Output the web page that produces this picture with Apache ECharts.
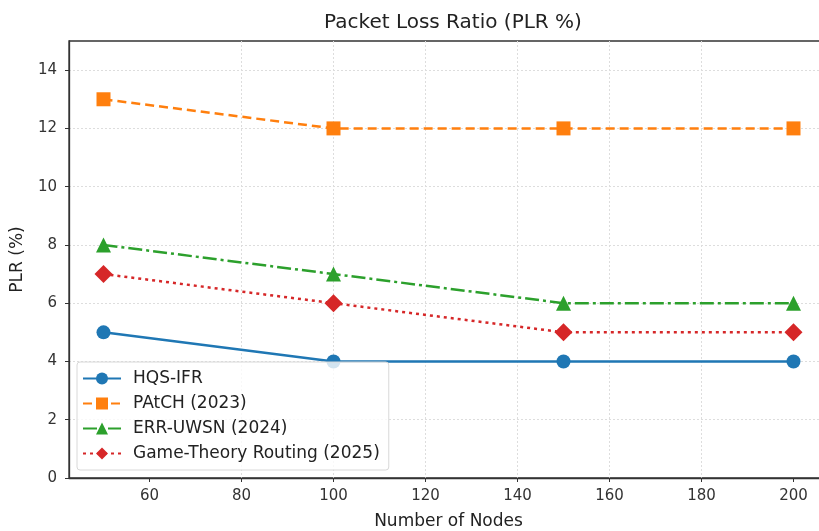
<!DOCTYPE html>
<html>
<head>
<meta charset="utf-8">
<script src="https://cdn.jsdelivr.net/npm/echarts@6/dist/echarts.min.js"></script>
<style>
  html, body { margin: 0; padding: 0; background: #fff; }
  #chart { width: 819px; height: 531px; }
</style>
</head>
<body>
<div id="chart"></div>
<script>
// data
var nodes = [50, 100, 150, 200];
var hqsIfr = [5, 4, 4, 4];
var patch2023 = [13, 12, 12, 12];
var errUwsn2024 = [8, 7, 6, 6];
var gameTheory2025 = [7, 6, 5, 5];
var xTicks = [60, 80, 100, 120, 140, 160, 180, 200];

var font = 'DejaVu Sans';

function pairs(ys) {
    return nodes.map(function (x, i) { return [x, ys[i]]; });
}

function mkSeries(name, ys, color, symbol, dash, size) {
    return {
        name: name,
        type: 'line',
        data: pairs(ys),
        symbol: symbol,
        symbolSize: size,
        itemStyle: { color: color },
        lineStyle: { color: color, width: 2.5, type: dash },
        emphasis: { disabled: true },
        z: 2
    };
}

var chart = echarts.init(document.getElementById('chart'));
var option = {
    animation: false,
    backgroundColor: '#fff',
    title: {
        text: 'Packet Loss Ratio (PLR %)',
        left: 448, top: 8, textAlign: 'center',
        textStyle: { fontFamily: font, fontSize: 20, fontWeight: 'normal', color: '#222' }
    },
    // plot box runs past the right edge of the picture, like the reference
    grid: {
        left: 69, top: 41, bottom: 53, width: 759,
        outerBoundsMode: 'none', containLabel: false,
        show: true, borderColor: '#333', borderWidth: 1.3
    },
    legend: {
        orient: 'vertical',
        left: 77, top: 362,
        padding: [8, 9, 8, 5],
        itemGap: 8,
        itemWidth: 38, itemHeight: 15,
        backgroundColor: 'rgba(255,255,255,0.8)',
        borderColor: '#d8d8d8', borderWidth: 1, borderRadius: 3,
        textStyle: { fontFamily: font, fontSize: 17, color: '#222', padding: [0, 0, 0, 7] },
        z: 10
    },
    xAxis: {
        type: 'value', min: 42.5, max: 207.5,
        name: 'Number of Nodes', nameLocation: 'middle', nameGap: 35,
        nameTextStyle: { fontFamily: font, fontSize: 17, color: '#222' },
        axisLine: { show: true, lineStyle: { color: '#333', width: 1.3 } },
        axisTick: { show: true, customValues: xTicks, length: 4, lineStyle: { color: '#333' } },
        axisLabel: { customValues: xTicks, fontFamily: font, fontSize: 15, color: '#333', margin: 11 },
        splitLine: { show: true, showMinLine: false, showMaxLine: false, lineStyle: { color: '#ddd', type: [2, 2] } }
    },
    yAxis: {
        type: 'value', min: 0, max: 15, interval: 2,
        name: 'PLR (%)', nameLocation: 'middle', nameGap: 43,
        nameTextStyle: { fontFamily: font, fontSize: 17, color: '#222' },
        axisLine: { show: true, lineStyle: { color: '#333', width: 1.3 } },
        axisTick: { show: true, length: 4, lineStyle: { color: '#333' } },
        axisLabel: { fontFamily: font, fontSize: 15, color: '#333', margin: 12, showMaxLabel: false },
        splitLine: { show: true, showMinLine: false, showMaxLine: false, lineStyle: { color: '#ddd', type: [2, 2] } }
    },
    series: [
        mkSeries('HQS-IFR', hqsIfr, '#1f77b4', 'circle', 'solid', 14),
        mkSeries('PAtCH (2023)', patch2023, '#ff7f0e', 'rect', [9, 5], 14),
        mkSeries('ERR-UWSN (2024)', errUwsn2024, '#2ca02c', 'triangle', [14, 4, 3, 4], 15),
        mkSeries('Game-Theory Routing (2025)', gameTheory2025, '#d62728', 'diamond', [3, 4], 18)
    ]
};
chart.setOption(option);
</script>
</body>
</html>
